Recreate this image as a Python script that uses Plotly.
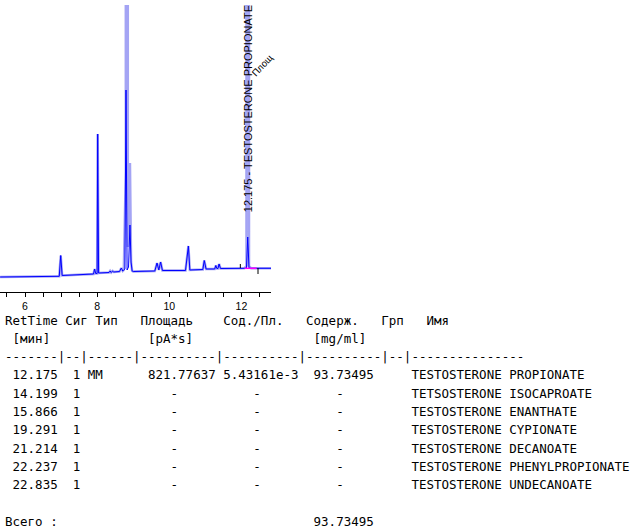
import plotly.graph_objects as go

# chromatogram, signal in arbitrary units
times = [5.31, 6.95, 6.99, 7.03, 7.90, 7.93, 7.96, 8.00, 8.015, 8.04,
         8.33, 8.36, 8.39, 8.43, 8.46, 8.62, 8.67, 8.71, 8.74, 8.77,
         8.80, 8.83, 8.87, 8.91, 8.94, 8.97, 9.00, 9.60, 9.66, 9.71,
         9.76, 9.81, 10.45, 10.53, 10.57, 10.93, 10.97, 11.02, 11.26, 11.29,
         11.32, 11.35, 11.38, 11.42, 12.08, 12.14, 12.175, 12.21, 12.27, 12.82]
signal = [15, 15.7, 36.5, 16.5, 18, 23, 18.5, 18.5, 158, 19,
          19.5, 21, 19.5, 21, 20, 20.5, 24, 21, 22, 23,
          202, 22, 25, 67, 30, 21, 20.5, 21, 29, 22,
          30, 21.5, 21.5, 46, 22, 22.5, 31.5, 23, 23, 26.5,
          23.5, 23.5, 28, 23.5, 23.7, 24, 55, 24, 23.7, 23.7]

# overlaid second run (light blue), main peaks go off scale
overlay_times = [5.31, 6.95, 6.99, 7.03, 7.90, 7.93, 7.96, 8.00, 8.015, 8.04,
                 8.33, 8.36, 8.39, 8.43, 8.46, 8.62, 8.67, 8.71, 8.74, 8.77,
                 8.795, 8.795, 8.85, 8.85, 8.91, 8.94, 8.97, 9.00, 9.60, 9.66,
                 9.71, 9.76, 9.81, 10.45, 10.53, 10.57, 10.93, 10.97, 11.02, 11.26,
                 11.29, 11.32, 11.35, 11.38, 11.42, 12.08, 12.14, 12.14, 12.21, 12.21,
                 12.27, 12.82]
overlay_signal = [15, 15.7, 36.5, 16.5, 18, 23, 18.5, 18.5, 158, 19,
                  19.5, 21, 19.5, 21, 20, 20.5, 24, 21, 22, 94,
                  120, 400, 400, 45, 129, 30, 21, 20.5, 21, 29,
                  22, 30, 21.5, 21.5, 46, 22, 22.5, 31.5, 23, 23,
                  26.5, 23.5, 23.5, 28, 23.5, 23.7, 26, 400, 400, 26,
                  23.7, 23.7]

# integration baseline and peak start/end markers
base_t = [12.09, 12.42]
base_v = [23.7, 23.7]
mark_t = [11.97, 11.97, None, 12.46, 12.46]
mark_v = [24, 28, None, 18, 24]

tick_vals = [5.5, 6, 6.5, 7, 7.5, 8, 8.5, 9, 9.5, 10, 10.5, 11, 11.5, 12, 12.5]
tick_text = ["", "6", "", "", "", "8", "", "", "", "10", "", "", "", "12", ""]

peak_label = "12.175 - TESTOSTERONE PROPIONATE"

# report table
ret_times = [12.175, 14.199, 15.866, 19.291, 21.214, 22.237, 22.835]
signals = [1, 1, 1, 1, 1, 1, 1]
peak_types = ["MM", "", "", "", "", "", ""]
areas = [821.77637, None, None, None, None, None, None]
amt_per_area = [5.43161e-3, None, None, None, None, None, None]
amounts = [93.73495, None, None, None, None, None, None]
names = ["TESTOSTERONE PROPIONATE", "TETSOSTERONE ISOCAPROATE",
         "TESTOSTERONE ENANTHATE", "TESTOSTERONE CYPIONATE",
         "TESTOSTERONE DECANOATE", "TESTOSTERONE PHENYLPROPIONATE",
         "TESTOSTERONE UNDECANOATE"]
total_amount = 93.73495

lines = [
    "RetTime Сиг Тип   Площадь    Сод./Пл.   Содерж.   Грп   Имя",
    " [мин]             [pA*s]                [mg/ml]",
    "-------|--|------|----------|----------|----------|--|---------------",
]
for i in range(len(ret_times)):
    a = f"{areas[i]:10.5f}" if areas[i] is not None else "    -     "
    p = f"{amt_per_area[i]:.5e}".replace("e-0", "e-") if amt_per_area[i] is not None else "    -     "
    m = f"{amounts[i]:9.5f}" if amounts[i] is not None else "    -    "
    lines.append(f"{ret_times[i]:7.3f} {signals[i]:2d} {peak_types[i]:<6} {a} {p} {m}     {names[i]}")
lines.append("")
lines.append(f"{'Всего :':<40}{total_amount:9.5f}")

fig = go.Figure()
fig.add_trace(go.Scatter(x=overlay_times, y=overlay_signal, mode="lines",
                         line=dict(color="#a4a4f4", width=2.5), hoverinfo="skip"))
fig.add_trace(go.Scatter(x=times, y=signal, mode="lines",
                         line=dict(color="#0000ff", width=1)))
fig.add_trace(go.Scatter(x=base_t, y=base_v, mode="lines",
                         line=dict(color="#ff00ff", width=1.5)))
fig.add_trace(go.Scatter(x=mark_t, y=mark_v, mode="lines",
                         line=dict(color="black", width=1)))

fig.add_annotation(x=12.175, y=183.5, xref="x", yref="y", text=peak_label,
                   textangle=-90, showarrow=False, xanchor="center", yanchor="middle",
                   font=dict(family="Liberation Sans, Arial", size=11, color="black"))
fig.add_annotation(x=12.56, y=227, xref="x", yref="y", text="Площ",
                   textangle=-47, showarrow=False,
                   font=dict(family="Liberation Sans, Arial", size=9.5, color="black"))

# table rows, one annotation per line
for i, line in enumerate(lines):
    py = 320 + i * 18.3
    fig.add_annotation(x=3 / 271, y=(292 - py) / 287, xref="paper", yref="paper",
                       text=line.replace(" ", "\u00a0"), showarrow=False,
                       xanchor="left", yanchor="middle",
                       font=dict(family="DejaVu Sans Mono", size=12.5, color="black"))

fig.update_layout(
    width=640, height=528,
    margin=dict(l=0, r=369, t=5, b=236, autoexpand=False),
    paper_bgcolor="white", plot_bgcolor="white",
    showlegend=False,
    xaxis=dict(range=[5.307, 12.82], showgrid=False, zeroline=False,
               showline=True, linecolor="black", linewidth=1,
               ticks="outside", ticklen=4, tickcolor="black",
               tickvals=tick_vals, ticktext=tick_text,
               tickfont=dict(family="Liberation Sans, Arial", size=10.5, color="black")),
    yaxis=dict(range=[0, 287], visible=False),
)

fig.write_html("out.html", config={"displayModeBar": False},
               post_script="document.body.style.margin='0';")
